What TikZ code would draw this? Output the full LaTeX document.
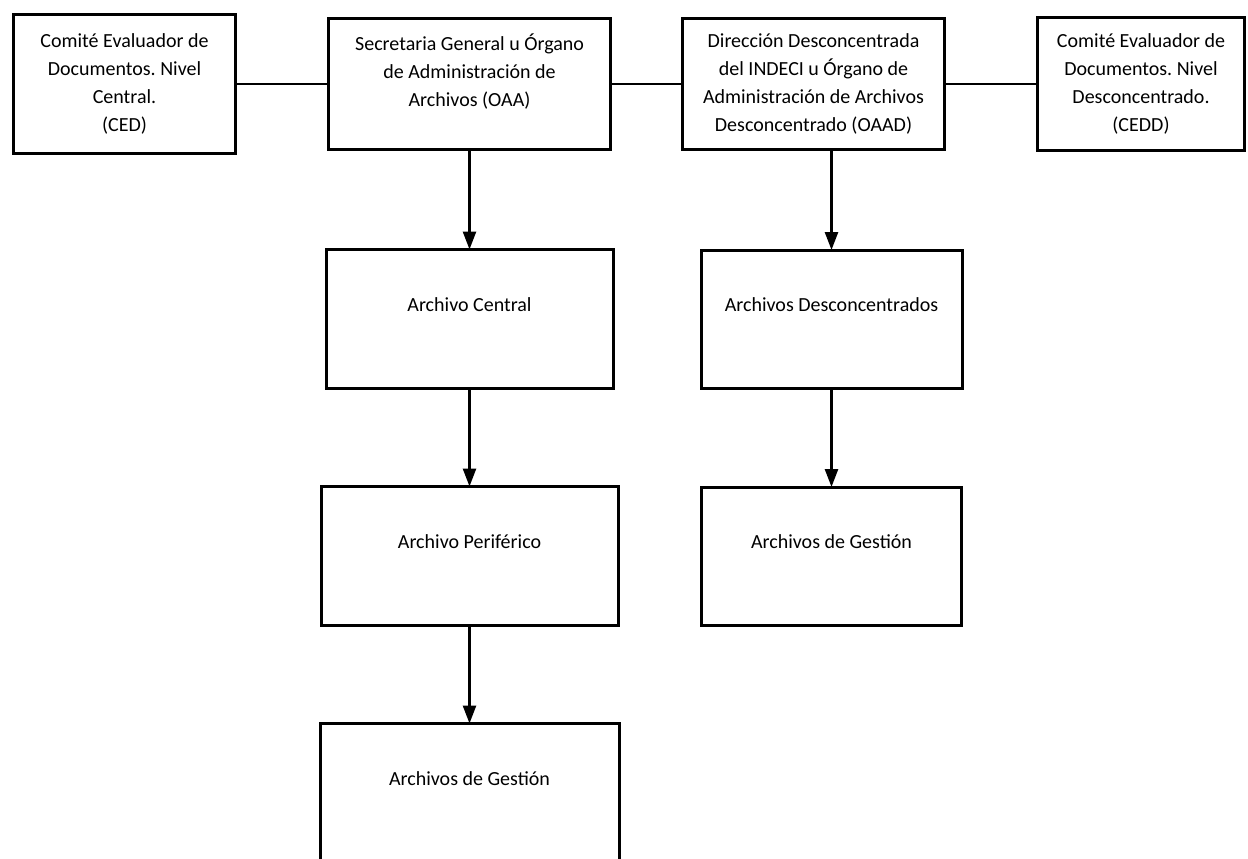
\documentclass[tikz,border=0pt]{standalone}
\usepackage{fontspec}
\setmainfont{Carlito}
\frenchspacing
\usetikzlibrary{positioning,arrows.meta}

\begin{document}
\begin{tikzpicture}[x=1pt,y=1pt,
 caja/.style={rectangle,draw,line width=3pt,outer sep=0pt,inner sep=0pt,align=center,font=\fontsize{20}{28}\selectfont},
 linea/.style={line width=2.6pt},
 flecha/.style={line width=2.6pt,-{Triangle[width=13pt,length=18pt]}}]
 \path[use as bounding box,clip] (0,0) rectangle (1248,-859);

 \node[caja,minimum width=222pt,minimum height=138pt] (ced) at (124.5,-84) {Comité Evaluador de\\Documentos. Nivel\\Central.\\(CED)};
 \node[caja,minimum width=282pt,minimum height=131pt] (oaa) [right=93pt of ced] {Secretaria General u Órgano\\de Administración de\\Archivos (OAA)\\\mbox{}};
 \node[caja,minimum width=262pt,minimum height=130pt] (oaad) [right=72pt of oaa] {Dirección Desconcentrada\\del INDECI u Órgano de\\Administración de Archivos\\Desconcentrado (OAAD)};
 \node[caja,minimum width=207pt,minimum height=133pt] (cedd) [right=93pt of oaad] {Comité Evaluador de\\Documentos. Nivel\\Desconcentrado.\\(CEDD)};

 \node[caja,minimum width=287pt,minimum height=139pt] (central) [below=100pt of oaa] {Archivo Central\\\mbox{}};
 \node[caja,minimum width=297pt,minimum height=139pt] (periferico) [below=98pt of central] {Archivo Periférico\\\mbox{}};
 \node[caja,minimum width=299pt,minimum height=139pt] (gestion1) [below=98pt of periferico] {Archivos de Gestión\\\mbox{}};

 \node[caja,minimum width=261pt,minimum height=138pt] (desconc) [below=101pt of oaad,xshift=18pt] {Archivos Desconcentrados\\\mbox{}};
 \node[caja,minimum width=260pt,minimum height=138pt] (gestion2) [below=99pt of desconc] {Archivos de Gestión\\\mbox{}};

\path[draw] (ced) edge [linea] (oaa);
\path[draw] (oaa) edge [linea] (oaad);
\path[draw] (oaad) edge [linea] (cedd);

\path[draw] (oaa) edge [flecha] (central);
\path[draw] (central) edge [flecha] (periferico);
\path[draw] (periferico) edge [flecha] (gestion1);
\path[draw] (desconc.north |- oaad.south) edge [flecha] (desconc);
\path[draw] (desconc) edge [flecha] (gestion2);
\end{tikzpicture}
\end{document}
